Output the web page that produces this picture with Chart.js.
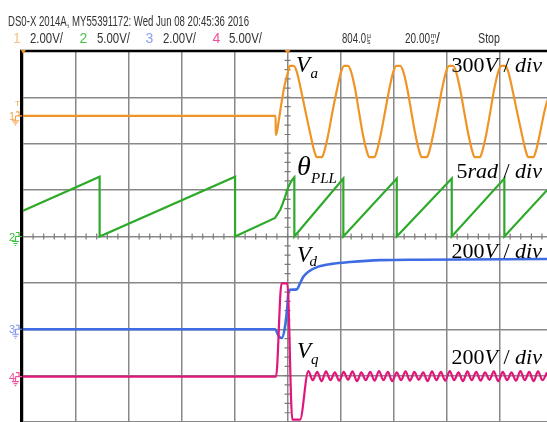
<!DOCTYPE html>
<html>
<head>
<meta charset="utf-8">
<script src="https://cdn.jsdelivr.net/npm/chart.js@4/dist/chart.umd.min.js"></script>
<style>
  html, body { margin: 0; padding: 0; background: #fff; width: 547px; height: 422px; overflow: hidden; }
  #wrap { position: relative; width: 547px; height: 422px; }
  #scope { position: absolute; left: 0; top: 0; }
  #labels { position: absolute; left: 0; top: 0; pointer-events: none; }
</style>
</head>
<body>
<div id="wrap">
  <canvas id="scope" width="547" height="422"></canvas>
  <svg id="labels" width="547" height="422" viewBox="0 0 547 422" xmlns="http://www.w3.org/2000/svg">
    <g id="header" font-family="'Liberation Sans', Arial, sans-serif" fill="#333"></g>
    <g id="markers" font-family="'Liberation Sans', Arial, sans-serif"></g>
    <g font-family="'Liberation Serif', 'Times New Roman', serif" fill="#000">
      <text x="296" y="72" font-size="23" font-style="italic">V</text>
      <text x="310.5" y="78" font-size="15" font-style="italic">a</text>
      <text x="542" y="72" font-size="22" text-anchor="end"><tspan>300</tspan><tspan font-style="italic">V</tspan><tspan> / </tspan><tspan font-style="italic">div</tspan></text>

      <text x="297" y="175" font-size="28" font-style="italic">θ</text>
      <text x="311" y="182.5" font-size="15" font-style="italic">PLL</text>
      <text x="542" y="178" font-size="22" text-anchor="end"><tspan>5</tspan><tspan font-style="italic">rad</tspan><tspan> / </tspan><tspan font-style="italic">div</tspan></text>

      <text x="297" y="262" font-size="23" font-style="italic">V</text>
      <text x="309.5" y="266" font-size="15" font-style="italic">d</text>
      <text x="542" y="258" font-size="22" text-anchor="end"><tspan>200</tspan><tspan font-style="italic">V</tspan><tspan> / </tspan><tspan font-style="italic">div</tspan></text>

      <text x="297" y="358" font-size="23" font-style="italic">V</text>
      <text x="311" y="364" font-size="15" font-style="italic">q</text>
      <text x="542" y="364" font-size="22" text-anchor="end"><tspan>200</tspan><tspan font-style="italic">V</tspan><tspan> / </tspan><tspan font-style="italic">div</tspan></text>
    </g>
  </svg>
</div>
<script>
// Scope capture: time in ms (20 ms/div, trigger at 0), traces in screen divisions (8 div tall).
const timeMin = -100;
const timeMax = 97.9;

// Channel settings shown in the status line
const channelIds    = ['1', '2', '3', '4'];
const channelScales = ['2.00V/', '5.00V/', '2.00V/', '5.00V/'];
const channelGround = [2.6, 0, -2.0, -3.02];   // ground reference of each channel, div
const delayText     = '804.0';
const timebaseText  = '20.00';
const runState      = 'Stop';
const scopeTitle    = 'DS0-X 2014A, MY55391172: Wed Jun 08 20:45:36 2016';

// Channel 1: grid phase voltage Va
const vaTime = [-100, -4.5, -4.45, -3.96, -2.83, -1.32, 0.19,
  0.85, 2.35, 3.5, 5.0, 6.8, 8.6, 10.1, 11.05, 12.95, 13.9, 15.4, 16.95, 18.7, 20.2,
  21.35, 22.85, 24.0, 25.5, 26.95, 28.4, 29.9, 30.85, 32.75, 33.7, 35.2, 36.8, 38.4, 39.9,
  41.05, 42.55, 43.7, 45.2, 46.7, 48.2, 49.7, 50.65, 52.55, 53.5, 55.0, 56.65, 58.3, 59.8,
  60.95, 62.45, 63.6, 65.1, 66.65, 68.2, 69.7, 70.65, 72.55, 73.5, 75.0, 76.5, 78.0, 79.5,
  80.65, 82.15, 83.3, 84.8, 86.6, 88.4, 89.9, 90.85, 92.75, 93.7, 95.2, 96.9, 98.1];
const vaDiv = [2.6, 2.6, 2.19, 2.27, 2.68, 3.20, 3.55,
  3.68, 3.68, 3.55, 3.18, 2.69, 2.21, 1.84, 1.71, 1.71, 1.84, 2.21, 2.69, 3.18, 3.55,
  3.68, 3.68, 3.55, 3.18, 2.69, 2.21, 1.84, 1.71, 1.71, 1.84, 2.21, 2.69, 3.18, 3.55,
  3.68, 3.68, 3.55, 3.18, 2.69, 2.21, 1.84, 1.71, 1.71, 1.84, 2.21, 2.69, 3.18, 3.55,
  3.68, 3.68, 3.55, 3.18, 2.69, 2.21, 1.84, 1.71, 1.71, 1.84, 2.21, 2.69, 3.18, 3.55,
  3.68, 3.68, 3.55, 3.18, 2.69, 2.21, 1.84, 1.71, 1.71, 1.84, 2.21, 2.69, 2.95];

// Channel 2: PLL angle theta
const thetaTime = [-100, -70.9, -70.9, -19.8, -19.8, -4.7, -2.8, -1.9, -0.9, 0.3, 1.4, 2.4,
  2.57, 2.57, 21.06, 21.06, 41.21, 41.21, 61.96, 61.96, 81.81, 81.81, 97.9];
const thetaDiv = [0.55, 1.29, 0, 1.29, 0, 0.40, 0.57, 0.70, 0.86, 1.07, 1.19, 1.27,
  1.28, 0, 1.25, 0, 1.25, 0, 1.25, 0, 1.25, 0, 1.0];

// Channel 3: d-axis voltage Vd
const vdTime = [-100, -4.72, -3.21, -2.19, -0.94, -0.08, 0.30, 0.94, 3.47, 4.72, 5.96, 7.85,
  11.62, 16.68, 23.6, 34.9, 50, 97.9];
const vdDiv = [-2.0, -2.0, -2.16, -2.19, -1.94, -1.51, -1.22, -1.15, -1.14, -1.01, -0.87, -0.76,
  -0.65, -0.59, -0.55, -0.51, -0.50, -0.485];

// Channel 4: q-axis voltage Vq
const vqTime = [-100, -4.34, -2.26, -0.08, 1.81, 4.72,
  7.85, 9.5, 11.2, 12.85, 14.5, 16.2, 17.85, 19.5, 21.2, 22.85, 24.5, 26.2, 27.85, 29.5,
  31.2, 32.85, 34.5, 36.2, 37.85, 39.5, 41.2, 42.85, 44.5, 46.2, 47.85, 49.5, 51.2, 52.85,
  54.5, 56.2, 57.85, 59.5, 61.2, 62.85, 64.5, 66.2, 67.85, 69.5, 71.2, 72.85, 74.5, 76.2,
  77.85, 79.5, 81.2, 82.85, 84.5, 86.2, 87.85, 89.5, 91.2, 92.85, 94.5, 96.2, 97.9];
const vqDiv = [-3.02, -3.02, -1.01, -1.01, -3.95, -3.95,
  -2.90, -3.10, -2.92, -3.12, -2.91, -3.10, -2.93, -3.11, -2.92, -3.09, -2.91, -3.12, -2.93, -3.10,
  -2.92, -3.11, -2.90, -3.10, -2.92, -3.12, -2.93, -3.10, -2.91, -3.11, -2.92, -3.09, -2.93, -3.12,
  -2.91, -3.10, -2.92, -3.11, -2.90, -3.10, -2.93, -3.12, -2.91, -3.10, -2.92, -3.11, -2.93, -3.09,
  -2.91, -3.12, -2.92, -3.10, -2.93, -3.11, -2.90, -3.10, -2.92, -3.12, -2.91, -3.10, -2.93];

const traceColors  = ['#ef9527', '#2eaa2a', '#3f6ce2', '#e0167a'];
const markerColors = ['#f5a64c', '#3cc23c', '#8094ee', '#ef529c'];
const headerColors = ['#f8c185', '#4cc24c', '#8c9ef2', '#f0509a'];

const zip = (t, v) => t.map((x, i) => ({ x, y: v[i] }));

// Graticule: frame, centre-axis minor ticks
const graticule = {
  id: 'graticule',
  beforeDatasetsDraw(chart) {
    const { ctx, scales: { x, y } } = chart;
    const cx = x.getPixelForValue(0), cy = y.getPixelForValue(0);
    ctx.save();
    ctx.strokeStyle = '#7a7a7a';
    ctx.lineWidth = 1.2;
    ctx.beginPath();
    for (let k = -20; k <= 20; k++) {
      const py = y.getPixelForValue(k * 0.2);
      ctx.moveTo(cx - 3, py); ctx.lineTo(cx + 3, py);
    }
    for (let k = -25; k <= 24; k++) {
      const px = x.getPixelForValue(k * 4);
      ctx.moveTo(px, cy - 3); ctx.lineTo(px, cy + 3);
    }
    ctx.stroke();
    ctx.restore();
  },
  afterDatasetsDraw(chart) {
    const { ctx, chartArea: a } = chart;
    ctx.save();
    ctx.strokeStyle = '#000';
    ctx.lineWidth = 2.5;
    ctx.beginPath();
    ctx.moveTo(20, a.top); ctx.lineTo(547, a.top);
    ctx.stroke();
    ctx.lineWidth = 3;
    ctx.beginPath();
    ctx.moveTo(a.left - 1, a.top - 1); ctx.lineTo(a.left - 1, 422);
    ctx.stroke();
    ctx.restore();
  }
};

const gridGray = '#888';

const chart = new Chart(document.getElementById('scope'), {
  type: 'line',
  data: {
    datasets: [
      { label: 'Va', data: zip(vaTime, vaDiv), borderColor: traceColors[0], borderWidth: 2.2, cubicInterpolationMode: 'monotone' },
      { label: 'theta', data: zip(thetaTime, thetaDiv), borderColor: traceColors[1], borderWidth: 2.2, tension: 0 },
      { label: 'Vq', data: zip(vqTime, vqDiv), borderColor: traceColors[3], borderWidth: 2.2, cubicInterpolationMode: 'monotone' },
      { label: 'Vd', data: zip(vdTime, vdDiv), borderColor: traceColors[2], borderWidth: 2.6, cubicInterpolationMode: 'monotone' }
    ]
  },
  options: {
    responsive: false,
    animation: false,
    devicePixelRatio: 1,
    layout: { padding: { left: 22.5, top: 51, right: 0, bottom: 0 } },
    elements: { point: { radius: 0, hoverRadius: 0 }, line: { fill: false } },
    plugins: { legend: { display: false }, tooltip: { enabled: false } },
    scales: {
      x: {
        type: 'linear', min: timeMin, max: timeMax,
        ticks: { display: false, stepSize: 20 },
        grid: {
          color: c => (c.tick && Math.abs(c.tick.value % 20) < 1e-6) ? gridGray : 'rgba(0,0,0,0)',
          lineWidth: 1.5, drawTicks: false
        },
        border: { display: false },
        afterFit: s => { s.height = 0; }
      },
      y: {
        type: 'linear', min: -4, max: 4,
        ticks: { display: false, stepSize: 1 },
        grid: { color: gridGray, lineWidth: 1.5, drawTicks: false },
        border: { display: false },
        afterFit: s => { s.width = 0; }
      }
    }
  },
  plugins: [graticule]
});

// Status lines and channel markers
const NS = 'http://www.w3.org/2000/svg';
function el(parent, tag, attrs, text) {
  const e = document.createElementNS(NS, tag);
  for (const k in attrs) e.setAttribute(k, attrs[k]);
  if (text !== undefined) e.textContent = text;
  parent.appendChild(e);
  return e;
}
const header = document.getElementById('header');
el(header, 'text', { x: 8, y: 26, 'font-size': 15, textLength: 241, lengthAdjust: 'spacingAndGlyphs' }, scopeTitle);
const idX = [13, 79.5, 145.5, 212.5];
const scaleX = [30, 97, 163, 229];
channelIds.forEach((id, i) => {
  el(header, 'text', { x: idX[i], y: 43, 'font-size': 14, fill: headerColors[i] }, id);
  el(header, 'text', { x: scaleX[i], y: 43, 'font-size': 14, textLength: 33, lengthAdjust: 'spacingAndGlyphs' }, channelScales[i]);
});
el(header, 'text', { x: 342, y: 43, 'font-size': 14, textLength: 24, lengthAdjust: 'spacingAndGlyphs' }, delayText);
el(header, 'text', { x: 367, y: 37.5, 'font-size': 7 }, 'µ');
el(header, 'text', { x: 367, y: 43.5, 'font-size': 7 }, 's');
el(header, 'text', { x: 405, y: 43, 'font-size': 14, textLength: 25, lengthAdjust: 'spacingAndGlyphs' }, timebaseText);
el(header, 'text', { x: 430.5, y: 37.5, 'font-size': 7 }, 'm');
el(header, 'text', { x: 431, y: 43.5, 'font-size': 7 }, 's');
el(header, 'text', { x: 436, y: 43, 'font-size': 14 }, '/');
el(header, 'text', { x: 478, y: 43, 'font-size': 14, textLength: 22, lengthAdjust: 'spacingAndGlyphs' }, runState);

const markers = document.getElementById('markers');
const ys = chart.scales.y, xs = chart.scales.x;
channelGround.forEach((g, i) => {
  const y0 = ys.getPixelForValue(g);
  const c = markerColors[i];
  el(markers, 'text', { x: 9, y: y0 + 4, 'font-size': 11, fill: c }, channelIds[i]);
  el(markers, 'path', {
    d: `M15.5 ${y0} H22 M16 ${y0 - 4} H19 V${y0} M15.5 ${y0} V${y0 + 5} M12 ${y0 + 5} H19 M13.5 ${y0 + 7} H17.5 M14.8 ${y0 + 9} H16.2`,
    stroke: c, 'stroke-width': 1.2, fill: 'none'
  });
});
// trigger level and trigger position marks
el(markers, 'text', { x: 15, y: ys.getPixelForValue(channelGround[0]) - 10, 'font-size': 8, fill: markerColors[0] }, 'T');
const tx = xs.getPixelForValue(0);
el(markers, 'path', { d: `M${tx - 3} 50 L${tx + 3} 50 L${tx} 54 Z`, fill: traceColors[0] });
el(markers, 'path', { d: `M21 50 L26 50 L23 54 Z`, fill: traceColors[0] });
</script>
</body>
</html>
